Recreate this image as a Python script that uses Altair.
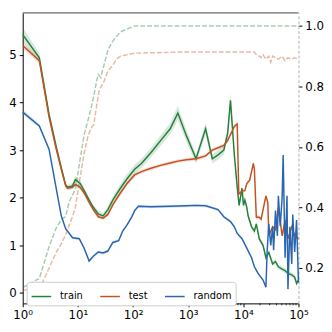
import altair as alt
import pandas as pd

names = ["train", "test", "random"]
colors = ["#26803d", "#c4521e", "#2a66b0"]

# loss curves (left axis)
train_x = [1, 2, 3, 4, 5, 6, 6.5, 8, 9, 11, 13, 16, 19, 23.5, 28.7, 35, 43, 59, 78, 107,
           142, 212, 316, 472, 649, 931, 1388, 2070, 2738, 3480, 4426, 5191, 5850, 6870, 7740,
           8390, 9460, 10060, 10660, 11550, 12200, 14100, 15860, 17200, 19400, 22780, 25680,
           28960, 33990, 38330, 43180, 50670, 57130, 64400, 75500, 85300, 92300, 100000]
train_y = [5.43, 4.94, 3.75, 3.1, 2.63, 2.27, 2.22, 2.25, 2.38, 2.3, 2.15, 1.95, 1.8, 1.66,
           1.62, 1.75, 1.95, 2.2, 2.4, 2.6, 2.72, 2.95, 3.2, 3.45, 3.78, 3.3, 2.82, 3.45, 2.82,
           2.9, 3.0, 3.35, 4.05, 2.9, 2.23, 1.84, 2.2, 1.84, 1.95, 1.8, 1.62, 1.39, 1.3, 1.45,
           1.14, 1.0, 0.74, 0.85, 0.61, 0.66, 0.55, 0.5, 0.47, 0.41, 0.38, 0.33, 0.2, 0.27]
train_sd = [0.15, 0.1, 0.08, 0.07, 0.06, 0.05, 0.05, 0.06, 0.08, 0.07, 0.06, 0.06, 0.06, 0.06,
            0.06, 0.07, 0.08, 0.09, 0.1, 0.1, 0.1, 0.1, 0.11, 0.12, 0.15, 0.13, 0.1, 0.12, 0.1,
            0.1, 0.1, 0.12, 0.15, 0.1, 0.08, 0.07, 0.07, 0.06, 0.06, 0.06, 0.06, 0.06, 0.05,
            0.05, 0.05, 0.05, 0.05, 0.05, 0.05, 0.05, 0.05, 0.05, 0.05, 0.05, 0.05, 0.05, 0.05, 0.05]

test_x = [1, 2, 3, 4, 5, 6, 6.5, 8, 9, 11, 13, 16, 19, 23.5, 28.7, 35, 43, 59, 78, 107,
          142, 212, 316, 472, 649, 931, 1388, 2070, 2738, 3480, 4426, 5191, 6870, 7740, 8280,
          9460, 10660, 11550, 13030, 15200, 15860, 17200, 19400, 21020, 25680, 27800, 28960,
          33990, 38330, 43180, 50670, 57130, 64400, 75500, 85300, 100000]
test_y = [5.2, 4.88, 3.7, 3.05, 2.6, 2.25, 2.2, 2.22, 2.28, 2.22, 2.1, 1.9, 1.75, 1.6, 1.57,
          1.65, 1.85, 2.1, 2.3, 2.48, 2.55, 2.62, 2.68, 2.73, 2.77, 2.8, 2.82, 2.88, 3.0, 3.05,
          3.1, 3.2, 3.5, 3.55, 2.08, 2.14, 2.15, 2.3, 2.37, 2.72, 2.6, 1.59, 1.59, 1.55, 2.04,
          1.9, 1.2, 1.39, 1.33, 1.78, 1.2, 1.53, 1.14, 1.39, 1.2, 1.14]
test_sd = [0.07, 0.06, 0.05, 0.05, 0.04, 0.04, 0.04, 0.04, 0.04, 0.04, 0.04, 0.04, 0.04, 0.04,
           0.04, 0.04, 0.04, 0.04, 0.04, 0.04, 0.04, 0.04, 0.04, 0.04, 0.04, 0.04, 0.04, 0.04,
           0.04, 0.04, 0.04, 0.04, 0.05, 0.05, 0.04, 0.04, 0.04, 0.04, 0.04, 0.05, 0.04, 0.04,
           0.04, 0.04, 0.04, 0.04, 0.04, 0.04, 0.04, 0.04, 0.04, 0.04, 0.04, 0.04, 0.04, 0.04]

rand_x = [1, 2, 3, 4, 5, 6, 8, 10.6, 13, 16, 19, 23.5, 28.7, 35, 43, 55, 65, 78, 95, 107,
          125, 212, 472, 931, 1388, 2070, 3480, 4426, 5850, 6870, 7740, 9460, 11550, 14100,
          15860, 18500, 22780, 25680, 27000, 28960, 31400, 33990, 35390, 38330, 41490, 43180,
          46770, 50670, 52740, 57130, 61900, 64400, 69800, 75500, 78700, 85300, 92300, 100000]
rand_y = [3.8, 3.51, 3.02, 2.23, 1.62, 1.35, 1.16, 1.14, 0.94, 0.67, 0.77, 0.86, 0.84, 0.88,
          1.06, 1.1, 1.3, 1.43, 1.6, 1.73, 1.82, 1.81, 1.82, 1.83, 1.84, 1.83, 1.75, 1.6, 1.5,
          1.39, 1.25, 1.14, 0.94, 0.74, 0.55, 0.41, 0.27, 0.12, 0.86, 1.45, 1.0, 1.39, 0.9,
          1.73, 1.2, 2.04, 1.4, 2.04, 2.9, 0.74, 2.04, 0.08, 1.39, 0.61, 1.65, 0.86, 1.53, 0.22]
rand_sd = [0.05, 0.04, 0.03, 0.03, 0.03, 0.03, 0.03, 0.03, 0.03, 0.03, 0.03, 0.03, 0.03, 0.03,
           0.03, 0.03, 0.03, 0.03, 0.03, 0.03, 0.03, 0.03, 0.03, 0.03, 0.03, 0.03, 0.03, 0.03,
           0.03, 0.03, 0.03, 0.03, 0.03, 0.03, 0.03, 0.03, 0.03, 0.03, 0.03, 0.03, 0.03, 0.03,
           0.03, 0.03, 0.03, 0.03, 0.03, 0.03, 0.03, 0.03, 0.03, 0.03, 0.03, 0.03, 0.03, 0.03,
           0.03, 0.03]

# accuracy curves (right axis, dashed)
tacc_x = [1, 1.75, 2, 3, 4, 5, 6, 7, 9, 11, 13, 17, 19.5, 22, 23.5, 26, 28.7, 35, 43, 59, 78,
          107, 1000, 100000]
tacc_y = [0.135, 0.16, 0.165, 0.27, 0.33, 0.36, 0.37, 0.42, 0.46, 0.56, 0.64, 0.72, 0.77,
          0.82, 0.84, 0.83, 0.86, 0.92, 0.95, 0.98, 0.99, 1.0, 1.0, 1.0]
vacc_x = [1, 2, 2.2, 3, 4, 5, 6, 8, 9, 11, 13, 15, 17, 19.5, 22, 24.5, 28.7, 35, 43, 50, 59,
          78, 107, 1000, 15860, 17200, 19400, 21020, 22780, 25680, 28960, 31400, 33990, 38330,
          43180, 50670, 57130, 64400, 75500, 85300, 100000]
vacc_y = [0.125, 0.14, 0.145, 0.2, 0.25, 0.28, 0.31, 0.37, 0.4, 0.5, 0.58, 0.63, 0.66, 0.674,
          0.74, 0.79, 0.81, 0.85, 0.87, 0.89, 0.9, 0.905, 0.91, 0.914, 0.914, 0.905, 0.9,
          0.895, 0.905, 0.89, 0.9, 0.88, 0.9, 0.895, 0.89, 0.9, 0.885, 0.895, 0.89, 0.895, 0.89]

x_major = [1, 10, 100, 1000, 10000, 100000]
x_minor = [m * 10 ** k for k in range(5) for m in range(2, 10)]
left_ticks = [0, 1, 2, 3, 4, 5]
right_ticks = [0.2, 0.4, 0.6, 0.8, 1.0]


def loss_df(name, xs, ys, sds):
    return pd.DataFrame({
        "step": xs, "loss": ys,
        "lo": [y - s for y, s in zip(ys, sds)],
        "hi": [y + s for y, s in zip(ys, sds)],
        "series": name,
    })


dfs = [loss_df("train", train_x, train_y, train_sd),
       loss_df("test", test_x, test_y, test_sd),
       loss_df("random", rand_x, rand_y, rand_sd)]
df_tacc = pd.DataFrame({"step": tacc_x, "acc": tacc_y})
df_vacc = pd.DataFrame({"step": vacc_x, "acc": vacc_y})
df_minor = pd.DataFrame({"m": x_minor})

W, H = 281, 296
FONT = "DejaVu Sans"

xscale = alt.Scale(type="log", domain=[1, 100000], nice=False)
yl = alt.Scale(domain=[-0.22, 5.885], nice=False, zero=False)
yr = alt.Scale(domain=[0.083, 1.043], nice=False, zero=False)
cscale = alt.Scale(domain=names, range=colors)

xaxis = alt.Axis(values=x_major, title=None, grid=False, tickSize=3.5, labelPadding=3,
                 labelExpr="'10' + ['\u2070','\u00b9','\u00b2','\u00b3','\u2074','\u2075'][round(log(datum.value)/LN10)]",
                 labelFlush=False, labelOverlap=False, labelFontSize=12, labelFont=FONT,
                 labelColor="black", domainColor="black", tickColor="black")
yaxis_l = alt.Axis(values=left_ticks, title=None, grid=False, tickSize=3.5, labelPadding=3,
                   labelFontSize=12, labelFont=FONT, labelColor="black",
                   domainColor="black", tickColor="black", orient="left")
yaxis_r = alt.Axis(values=right_ticks, format=".1f", title=None, grid=False, tickSize=3.5,
                   labelPadding=3, labelFontSize=12, labelFont=FONT, labelColor="black",
                   domainColor="#b0b0b0", domainDash=[3, 2], tickColor="black", orient="right")

legend = alt.Legend(title=None, orient="none", legendX=4, legendY=H - 22,
                    direction="horizontal", symbolType="stroke", symbolSize=400,
                    symbolStrokeWidth=1.5, labelFontSize=10, labelFont=FONT,
                    labelColor="black", fillColor="white", strokeColor="#cccccc",
                    padding=4, cornerRadius=3, labelOffset=8, columnPadding=14)

left_layers = []
for d, c in zip(dfs, colors):
    left_layers.append(
        alt.Chart(d).mark_area(opacity=0.18, color=c).encode(
            x=alt.X("step:Q", scale=xscale, axis=xaxis),
            y=alt.Y("lo:Q", scale=yl, axis=yaxis_l),
            y2="hi:Q",
        )
    )
for d in dfs:
    left_layers.append(
        alt.Chart(d).mark_line(strokeWidth=1.5).encode(
            x=alt.X("step:Q", scale=xscale, axis=xaxis),
            y=alt.Y("loss:Q", scale=yl, axis=yaxis_l),
            color=alt.Color("series:N", scale=cscale, legend=legend),
        )
    )

minor = alt.Chart(df_minor).mark_rule(color="black", strokeWidth=0.8).encode(
    x=alt.X("m:Q", scale=xscale, axis=xaxis),
    y=alt.value(H), y2=alt.value(H + 2),
)
top_rule = alt.Chart(pd.DataFrame({"a": [0]})).mark_rule(color="#444444", strokeWidth=1).encode(
    x=alt.value(0), x2=alt.value(W), y=alt.value(0)
)

left = alt.layer(*left_layers, minor, top_rule)

right = alt.layer(
    alt.Chart(df_tacc).mark_line(strokeDash=[5, 2], strokeWidth=1.5, opacity=0.4,
                                 color=colors[0]).encode(
        x=alt.X("step:Q", scale=xscale, axis=xaxis),
        y=alt.Y("acc:Q", scale=yr, axis=yaxis_r),
    ),
    alt.Chart(df_vacc).mark_line(strokeDash=[5, 2], strokeWidth=1.5, opacity=0.4,
                                 color=colors[1]).encode(
        x=alt.X("step:Q", scale=xscale, axis=xaxis),
        y=alt.Y("acc:Q", scale=yr, axis=yaxis_r),
    ),
)

chart = alt.layer(left, right).resolve_scale(y="independent").properties(
    width=W, height=H, padding={"left": 0, "right": 0, "top": 1, "bottom": 0}
).configure(font=FONT).configure_view(strokeWidth=0)

chart.save("out.html", embed_options={"renderer": "svg", "actions": False})
